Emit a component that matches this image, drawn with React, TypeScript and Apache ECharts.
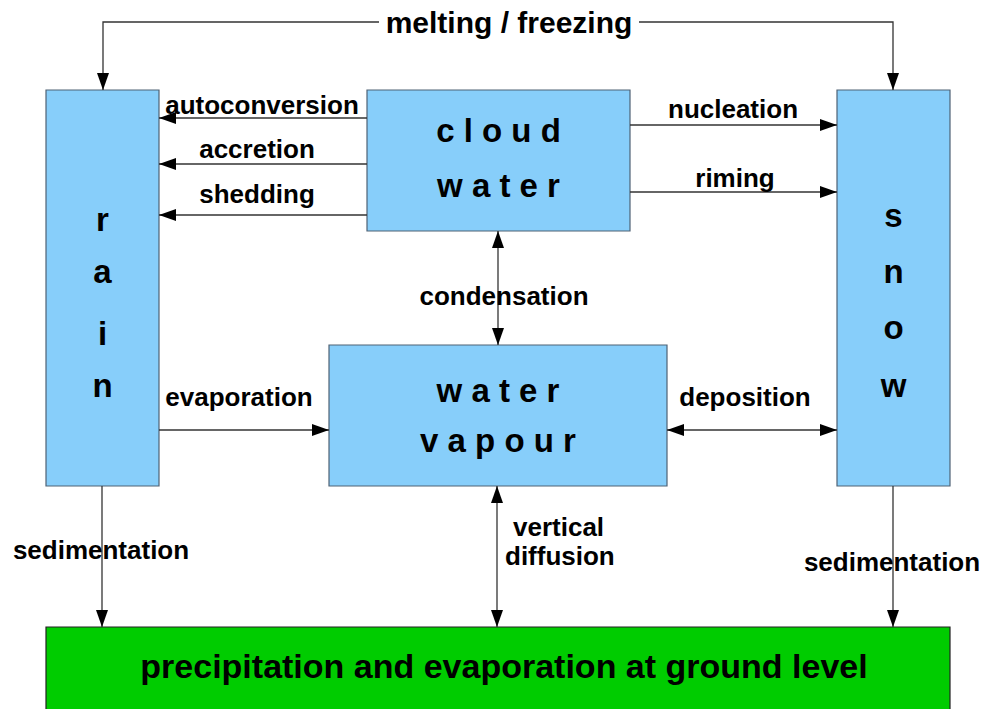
import React, { useEffect, useRef } from "react";
import * as echarts from "echarts";

// ---- diagram content ----
const titleLabel = "melting / freezing";
const rainLetters = ["r", "a", "i", "n"];
const snowLetters = ["s", "n", "o", "w"];
const cloudLines = ["c l o u d", "w a t e r"];
const vapourLines = ["w a t e r", "v a p o u r"];
const groundLabel = "precipitation and evaporation at ground level";
const cloudToRainLabels = ["autoconversion", "accretion", "shedding"];
const cloudToSnowLabels = ["nucleation", "riming"];
const condensationLabel = "condensation";
const evaporationLabel = "evaporation";
const depositionLabel = "deposition";
const diffusionLines = ["vertical", "diffusion"];
const sedimentationLabel = "sedimentation";

// ---- layout ----
const FONT = "'Liberation Sans', Arial, Helvetica, sans-serif";
const BOX_FILL = "#87cefa";
const BOX_STROKE = "#4f6275";
const LINE = "#333333";
const LW = 1.3;
const AH_LEN = 17;
const AH_W = 6;

const RAIN = { x: 46, y: 90, w: 113, h: 396 };
const CLOUD = { x: 367, y: 90, w: 263, h: 141 };
const SNOW = { x: 837, y: 90, w: 113, h: 396 };
const VAPOUR = { x: 329, y: 345, w: 338, h: 141 };
const GROUND = { x: 46, y: 627, w: 904, h: 100 };

const rainLetterY = [219, 271.5, 333, 385];
const snowLetterY = [215, 271.5, 327.5, 385];
const cloudLineY = [130.5, 185.5];
const vapourLineY = [390, 440];
const toRainY = [118, 164, 215];
const toRainLabelPos = [
  [262, 105],
  [257, 149],
  [257, 194],
];
const toSnowY = [125, 192];
const toSnowLabelPos = [
  [733, 109],
  [735, 178],
];

function rect(b: any, fill: string, stroke: string) {
  return {
    type: "rect",
    shape: { x: b.x, y: b.y, width: b.w, height: b.h },
    style: { fill, stroke, lineWidth: 1.2 },
    z: 1,
  };
}

function text(str: string, x: number, y: number, size: number, align = "center") {
  return {
    type: "text",
    x,
    y,
    z: 5,
    style: {
      text: str,
      fontSize: size,
      fontWeight: "bold",
      fontFamily: FONT,
      fill: "#000",
      align,
      verticalAlign: "middle",
    },
  };
}

function line(x1: number, y1: number, x2: number, y2: number) {
  return {
    type: "line",
    shape: { x1, y1, x2, y2 },
    style: { stroke: LINE, lineWidth: LW },
    z: 3,
  };
}

// arrowhead with tip at (x, y), pointing in direction (dx, dy)
function head(x: number, y: number, dx: number, dy: number) {
  const bx = x - dx * AH_LEN;
  const by = y - dy * AH_LEN;
  const px = -dy * AH_W;
  const py = dx * AH_W;
  return {
    type: "polygon",
    shape: {
      points: [
        [x, y],
        [bx + px, by + py],
        [bx - px, by - py],
      ],
    },
    style: { fill: "#000" },
    z: 4,
  };
}

function arrow(x1: number, y1: number, x2: number, y2: number, both = false) {
  const len = Math.hypot(x2 - x1, y2 - y1);
  const dx = (x2 - x1) / len;
  const dy = (y2 - y1) / len;
  const els: any[] = [line(x1, y1, x2, y2), head(x2, y2, dx, dy)];
  if (both) els.push(head(x1, y1, -dx, -dy));
  return els;
}

function buildElements() {
  const els: any[] = [];
  // boxes
  els.push(rect(RAIN, BOX_FILL, BOX_STROKE));
  els.push(rect(CLOUD, BOX_FILL, BOX_STROKE));
  els.push(rect(SNOW, BOX_FILL, BOX_STROKE));
  els.push(rect(VAPOUR, BOX_FILL, BOX_STROKE));
  els.push(rect(GROUND, "#00cc00", "#222222"));

  // box texts
  const rainCx = RAIN.x + RAIN.w / 2;
  rainLetters.forEach((l, i) => els.push(text(l, rainCx, rainLetterY[i], 33)));
  const snowCx = SNOW.x + SNOW.w / 2;
  snowLetters.forEach((l, i) => els.push(text(l, snowCx, snowLetterY[i], 33)));
  const cloudCx = CLOUD.x + CLOUD.w / 2;
  cloudLines.forEach((l, i) => els.push(text(l, cloudCx, cloudLineY[i], 33)));
  const vapCx = VAPOUR.x + VAPOUR.w / 2;
  vapourLines.forEach((l, i) => els.push(text(l, vapCx, vapourLineY[i], 33)));
  els.push(text(groundLabel, 504, 666, 34));

  // melting / freezing
  const topY = 22;
  els.push({
    type: "polyline",
    shape: { points: [[rainCx + 0.5, RAIN.y], [rainCx + 0.5, topY], [379, topY]] },
    style: { stroke: LINE, lineWidth: LW, fill: null },
    z: 3,
  });
  els.push({
    type: "polyline",
    shape: { points: [[639, topY], [snowCx - 0.5, topY], [snowCx - 0.5, SNOW.y]] },
    style: { stroke: LINE, lineWidth: LW, fill: null },
    z: 3,
  });
  els.push(head(rainCx + 0.5, RAIN.y, 0, 1));
  els.push(head(snowCx - 0.5, SNOW.y, 0, 1));
  els.push(text(titleLabel, 509, 22, 30));

  // cloud -> rain
  cloudToRainLabels.forEach((lab, i) => {
    els.push(...arrow(CLOUD.x, toRainY[i], RAIN.x + RAIN.w, toRainY[i]));
    els.push(text(lab, toRainLabelPos[i][0], toRainLabelPos[i][1], 26));
  });
  // cloud -> snow
  cloudToSnowLabels.forEach((lab, i) => {
    els.push(...arrow(CLOUD.x + CLOUD.w, toSnowY[i], SNOW.x, toSnowY[i]));
    els.push(text(lab, toSnowLabelPos[i][0], toSnowLabelPos[i][1], 26));
  });

  // condensation
  els.push(...arrow(498, CLOUD.y + CLOUD.h, 498, VAPOUR.y, true));
  els.push(text(condensationLabel, 504, 296, 26));

  // evaporation
  els.push(...arrow(RAIN.x + RAIN.w, 430, VAPOUR.x, 430));
  els.push(text(evaporationLabel, 239, 397, 26));

  // deposition
  els.push(...arrow(VAPOUR.x + VAPOUR.w, 430, SNOW.x, 430, true));
  els.push(text(depositionLabel, 745, 397, 26));

  // vertical diffusion
  els.push(...arrow(497, VAPOUR.y + VAPOUR.h, 497, GROUND.y, true));
  els.push(text(diffusionLines[0], 513, 527, 26, "left"));
  els.push(text(diffusionLines[1], 505, 556, 26, "left"));

  // sedimentation
  els.push(...arrow(102, RAIN.y + RAIN.h, 102, GROUND.y));
  els.push(text(sedimentationLabel, 101, 550, 26));
  els.push(...arrow(893, SNOW.y + SNOW.h, 893, GROUND.y));
  els.push(text(sedimentationLabel, 892, 562, 26));

  return els;
}

export default function App() {
  const ref = useRef<HTMLDivElement>(null);
  useEffect(() => {
    if (!ref.current) return;
    const chart = echarts.init(ref.current, undefined, { renderer: "svg" });
    chart.setOption({
      animation: false,
      backgroundColor: "#ffffff",
      graphic: { elements: buildElements() },
    });
    return () => chart.dispose();
  }, []);
  return (
    <div
      ref={ref}
      style={{ position: "fixed", left: 0, top: 0, width: 986, height: 709, background: "#fff" }}
    />
  );
}
